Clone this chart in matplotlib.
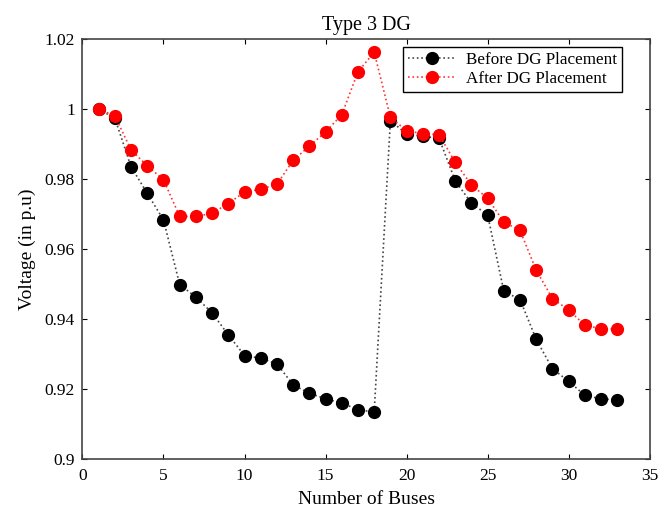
import matplotlib
matplotlib.use("Agg")
from matplotlib import pyplot as plt

# bus numbers and voltage profiles (p.u.)
buses = list(range(1, 34))
before_dg = [1.000, 0.9974, 0.9835, 0.9759, 0.9683, 0.9498, 0.9462, 0.9417, 0.9354,
             0.9295, 0.9287, 0.9271, 0.9211, 0.9187, 0.9171, 0.9159, 0.9140, 0.9133,
             0.9967, 0.9929, 0.9922, 0.9917, 0.9795, 0.9731, 0.9697, 0.9479, 0.9455,
             0.9341, 0.9257, 0.9221, 0.9181, 0.9171, 0.9168]
after_dg = [1.000, 0.9981, 0.9883, 0.9838, 0.9798, 0.9693, 0.9693, 0.9702, 0.9730,
            0.9763, 0.9771, 0.9785, 0.9854, 0.9894, 0.9935, 0.9984, 1.0107, 1.0163,
            0.9977, 0.9938, 0.9930, 0.9927, 0.9848, 0.9783, 0.9745, 0.9677, 0.9653,
            0.9539, 0.9458, 0.9425, 0.9382, 0.9371, 0.9371]
x_ticks = [0, 5, 10, 15, 20, 25, 30, 35]
y_ticks = [0.9, 0.92, 0.94, 0.96, 0.98, 1.0, 1.02]
y_tick_labels = ["0.9", "0.92", "0.94", "0.96", "0.98", "1", "1.02"]

plt.rcParams['font.family'] = ['Liberation Serif', 'DejaVu Serif']

fig = plt.figure(figsize=(6.65, 5.17), dpi=100)
ax = fig.add_axes([0.124, 0.113, 0.853, 0.811])

ax.plot(buses, before_dg, linestyle=':', color='#444444', linewidth=1.2,
        marker='o', markersize=8.5, markerfacecolor='black', markeredgecolor='black',
        label='Before DG Placement')
ax.plot(buses, after_dg, linestyle=':', color='#ff3333', linewidth=1.2,
        marker='o', markersize=8.5, markerfacecolor='red', markeredgecolor='red',
        label='After DG Placement')

ax.set_xlim(0, 35)
ax.set_ylim(0.9, 1.02)
ax.set_xticks(x_ticks)
ax.set_yticks(y_ticks)
ax.set_yticklabels(y_tick_labels)
ax.tick_params(direction='in', top=True, right=True, labelsize=12.5, length=3.6)
ax.tick_params(axis='x', pad=6.5)
ax.tick_params(axis='y', pad=5.5)

for side in ax.spines.values():
    side.set_color('#444444')
    side.set_linewidth(1.2)

ax.set_title('Type 3 DG', fontsize=14.5, pad=7)
ax.set_xlabel('Number of Buses', fontsize=14, labelpad=5)
ax.set_ylabel('Voltage (in p.u)', fontsize=14, labelpad=6)

leg = ax.legend(loc='upper right', fontsize=12.3, fancybox=False, framealpha=1,
                edgecolor='black', borderpad=0.3, labelspacing=0.18,
                handlelength=2.75, handletextpad=0.6, borderaxespad=0,
                bbox_to_anchor=(0.9506, 0.9816))
leg.get_frame().set_linewidth(1.0)

fig.savefig("out.png", dpi=100)
